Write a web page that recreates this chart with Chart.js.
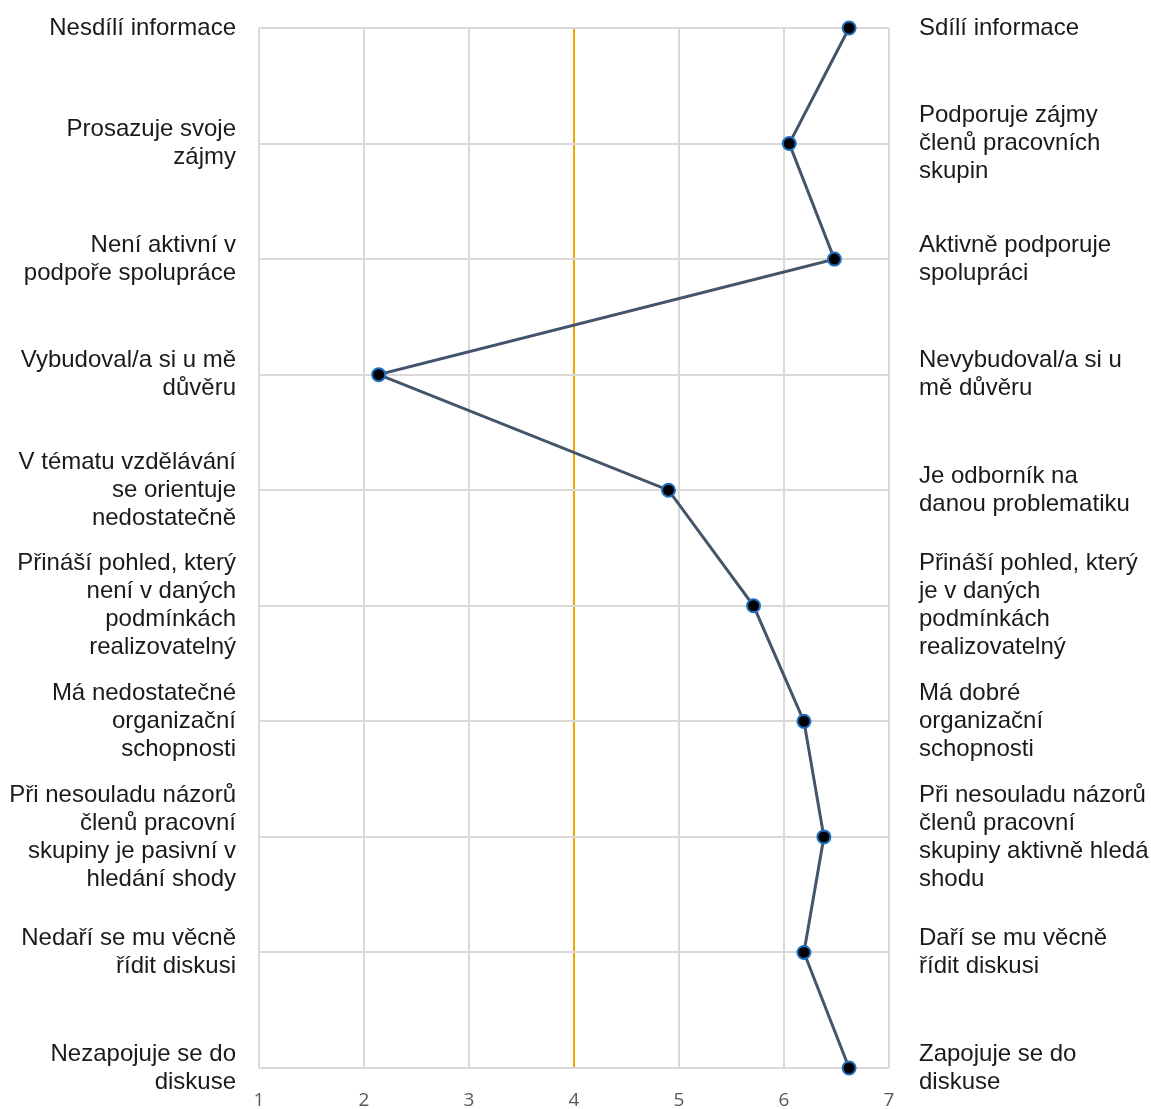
<!DOCTYPE html>
<html>
<head>
<meta charset="utf-8">
<script src="https://cdn.jsdelivr.net/npm/chart.js@4"></script>
<style>
  html, body { margin: 0; padding: 0; background: #fff; }
  #wrap { width: 1151px; height: 1109px; }
</style>
</head>
<body>
<div id="wrap"><canvas id="line-chart"></canvas></div>
<script>
const leftLabels = [
  ['Nesdílí informace'],
  ['Prosazuje svoje', 'zájmy'],
  ['Není aktivní v', 'podpoře spolupráce'],
  ['Vybudoval/a si u mě', 'důvěru'],
  ['V tématu vzdělávání', 'se orientuje', 'nedostatečně'],
  ['Přináší pohled, který', 'není v daných', 'podmínkách', 'realizovatelný'],
  ['Má nedostatečné', 'organizační', 'schopnosti'],
  ['Při nesouladu názorů', 'členů pracovní', 'skupiny je pasivní v', 'hledání shody'],
  ['Nedaří se mu věcně', 'řídit diskusi'],
  ['Nezapojuje se do', 'diskuse'],
];
const rightLabels = [
  ['Sdílí informace'],
  ['Podporuje zájmy', 'členů pracovních', 'skupin'],
  ['Aktivně podporuje', 'spolupráci'],
  ['Nevybudoval/a si u', 'mě důvěru'],
  ['Je odborník na', 'danou problematiku'],
  ['Přináší pohled, který', 'je v daných', 'podmínkách', 'realizovatelný'],
  ['Má dobré', 'organizační', 'schopnosti'],
  ['Při nesouladu názorů', 'členů pracovní', 'skupiny aktivně hledá', 'shodu'],
  ['Daří se mu věcně', 'řídit diskusi'],
  ['Zapojuje se do', 'diskuse'],
];
const scores = [6.62, 6.05, 6.48, 2.14, 4.9, 5.71, 6.19, 6.38, 6.19, 6.62];
const scaleMin = 1;
const scaleMax = 7;
const midValue = 4;

const labelFont = { family: "'Liberation Sans', Arial, sans-serif", size: 24, lineHeight: 1.1667 };

// drop the automatic edge padding so the plot area keeps its place
const fixSide = (width) => (scale) => {
  scale.width = width;
  scale.paddingTop = 0;
  scale.paddingBottom = 0;
};

new Chart(
  document.getElementById('line-chart'),
  {
    type: 'line',
    data: {
      labels: leftLabels,
      datasets: [
        {
          label: 'Hodnocení',
          data: scores,
          borderColor: '#44546A',
          borderWidth: 3,
          pointRadius: 6.5,
          pointHoverRadius: 6.5,
          pointBackgroundColor: '#000000',
          pointBorderColor: '#1F6FC0',
          pointBorderWidth: 2,
          tension: 0,
          yAxisID: 'y',
        },
      ],
    },
    options: {
      indexAxis: 'y',
      responsive: true,
      maintainAspectRatio: false,
      animation: false,
      layout: { padding: { top: 28, bottom: 0, left: 0, right: 0 } },
      plugins: {
        legend: { display: false },
        tooltip: { enabled: false },
      },
      scales: {
        x: {
          type: 'linear',
          min: scaleMin,
          max: scaleMax,
          border: { display: false },
          grid: {
            drawTicks: false,
            lineWidth: 2,
            color: (ctx) => (ctx.tick && ctx.tick.value === midValue ? '#F5A500' : '#D9D9D9'),
          },
          ticks: {
            stepSize: 1,
            padding: 21,
            color: '#595959',
            font: { family: "'Open Sans', sans-serif", size: 19 },
          },
          afterFit: (scale) => { scale.height = 41; },
        },
        y: {
          type: 'category',
          position: 'left',
          labels: leftLabels,
          offset: false,
          border: { display: false },
          grid: { drawTicks: false, lineWidth: 2, color: '#D9D9D9' },
          ticks: {
            padding: 23,
            color: '#1a1a1a',
            font: labelFont,
            autoSkip: false,
          },
          afterFit: fixSide(259),
        },
        y2: {
          type: 'category',
          position: 'right',
          labels: rightLabels,
          min: 0,
          max: rightLabels.length - 1,
          offset: false,
          border: { display: false },
          grid: { drawOnChartArea: false, drawTicks: false },
          ticks: {
            padding: 30,
            color: '#1a1a1a',
            font: labelFont,
            autoSkip: false,
          },
          afterFit: fixSide(262),
        },
      },
    },
  }
);
</script>
</body>
</html>
